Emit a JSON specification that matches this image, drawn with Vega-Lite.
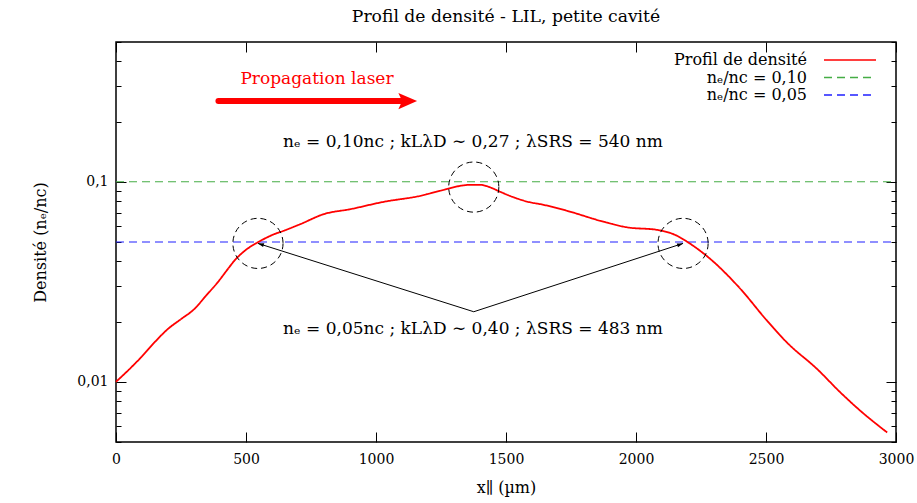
{
  "$schema": "https://vega.github.io/schema/vega-lite/v6.json",
  "width": 780,
  "height": 400,
  "autosize": {"type": "none"},
  "padding": {"left": 116, "top": 42, "right": 21, "bottom": 61},
  "background": "white",
  "title": {"text": "Profil de densité - LIL, petite cavité", "font": "DejaVu Serif", "fontSize": 17.2, "fontWeight": "normal", "color": "black", "offset": 16, "anchor": "middle"},
  "config": {
    "view": {"stroke": "black", "strokeWidth": 1.5},
    "axis": {"domain": false, "grid": false, "tickColor": "black", "tickWidth": 1, "labelFont": "DejaVu Serif", "labelFontSize": 14, "labelColor": "black", "titleFont": "DejaVu Serif", "titleFontSize": 16, "titleFontWeight": "normal", "titleColor": "black"},
    "legend": {"orient": "none", "legendX": 726, "legendY": 10, "title": null, "labelAlign": "right", "labelOffset": -51, "labelFont": "DejaVu Serif", "labelFontSize": 16, "labelColor": "black", "labelLimit": 400, "symbolType": "M-4,0H4", "symbolSize": 169, "symbolStrokeWidth": 1.5, "rowPadding": 1.5, "padding": 0}
  },
  "datasets": {
    "curve": [
      {"x": 0, "y": 0.0100, "series": "Profil de densité"},
      {"x": 45, "y": 0.01135, "series": "Profil de densité"},
      {"x": 96, "y": 0.01324, "series": "Profil de densité"},
      {"x": 148, "y": 0.01574, "series": "Profil de densité"},
      {"x": 199, "y": 0.01834, "series": "Profil de densité"},
      {"x": 250, "y": 0.02058, "series": "Profil de densité"},
      {"x": 301, "y": 0.02309, "series": "Profil de densité"},
      {"x": 346, "y": 0.02692, "series": "Profil de densité"},
      {"x": 391, "y": 0.03141, "series": "Profil de densité"},
      {"x": 430, "y": 0.0366, "series": "Profil de densité"},
      {"x": 455, "y": 0.04027, "series": "Profil de densité"},
      {"x": 500, "y": 0.04571, "series": "Profil de densité"},
      {"x": 545, "y": 0.04977, "series": "Profil de densité"},
      {"x": 609, "y": 0.05474, "series": "Profil de densité"},
      {"x": 645, "y": 0.0569, "series": "Profil de densité"},
      {"x": 709, "y": 0.0614, "series": "Profil de densité"},
      {"x": 799, "y": 0.0689, "series": "Profil de densité"},
      {"x": 902, "y": 0.0730, "series": "Profil de densité"},
      {"x": 1030, "y": 0.0794, "series": "Profil de densité"},
      {"x": 1171, "y": 0.0851, "series": "Profil de densité"},
      {"x": 1248, "y": 0.0902, "series": "Profil de densité"},
      {"x": 1312, "y": 0.0948, "series": "Profil de densité"},
      {"x": 1363, "y": 0.0966, "series": "Profil de densité"},
      {"x": 1402, "y": 0.0966, "series": "Profil de densité"},
      {"x": 1440, "y": 0.0937, "series": "Profil de densité"},
      {"x": 1478, "y": 0.0891, "series": "Profil de densité"},
      {"x": 1530, "y": 0.0836, "series": "Profil de densité"},
      {"x": 1594, "y": 0.0789, "series": "Profil de densité"},
      {"x": 1632, "y": 0.0773, "series": "Profil de densité"},
      {"x": 1735, "y": 0.0716, "series": "Profil de densité"},
      {"x": 1863, "y": 0.0638, "series": "Profil de densité"},
      {"x": 1966, "y": 0.0592, "series": "Profil de densité"},
      {"x": 2081, "y": 0.0575, "series": "Profil de densité"},
      {"x": 2158, "y": 0.0537, "series": "Profil de densité"},
      {"x": 2197, "y": 0.0501, "series": "Profil de densité"},
      {"x": 2286, "y": 0.0411, "series": "Profil de densité"},
      {"x": 2402, "y": 0.0291, "series": "Profil de densité"},
      {"x": 2504, "y": 0.0202, "series": "Profil de densité"},
      {"x": 2581, "y": 0.0157, "series": "Profil de densité"},
      {"x": 2697, "y": 0.01157, "series": "Profil de densité"},
      {"x": 2786, "y": 0.00885, "series": "Profil de densité"},
      {"x": 2863, "y": 0.00716, "series": "Profil de densité"},
      {"x": 2966, "y": 0.00558, "series": "Profil de densité"}
    ],
    "ref": [
      {"x": 0, "y": 0.1, "series": "nₑ/nc = 0,10"},
      {"x": 3000, "y": 0.1, "series": "nₑ/nc = 0,10"},
      {"x": 0, "y": 0.05, "series": "nₑ/nc = 0,05"},
      {"x": 3000, "y": 0.05, "series": "nₑ/nc = 0,05"}
    ],
    "circles": [
      {"x": 546, "y": 0.0492},
      {"x": 1376, "y": 0.0941},
      {"x": 2181, "y": 0.0492}
    ],
    "arrows": [
      {"x": 1376, "y": 0.0224, "x2": 546, "y2": 0.0492, "side": "left"},
      {"x": 1376, "y": 0.0224, "x2": 2181, "y2": 0.0492, "side": "right"}
    ],
    "laser": [{"x": 394, "x2": 1113, "y": 0.2532, "tip": 1158}],
    "redtext": [{"x": 773, "y": 0.326, "text": "Propagation laser"}],
    "notes": [
      {"x": 1373, "y": 0.1585, "text": "nₑ = 0,10nc ; kLλD ∼ 0,27 ; λSRS = 540 nm"},
      {"x": 1373, "y": 0.01834, "text": "nₑ = 0,05nc ; kLλD ∼ 0,40 ; λSRS = 483 nm"}
    ]
  },
  "layer": [
    {
      "data": {"name": "ref"},
      "mark": {"type": "line", "strokeWidth": 1.1},
      "encoding": {
        "x": {"field": "x", "type": "quantitative", "scale": {"domain": [0, 3000], "nice": false, "zero": false},
              "axis": {"orient": "top", "labels": false, "title": null, "values": [0, 500, 1000, 1500, 2000, 2500, 3000], "tickSize": -10}},
        "y": {"field": "y", "type": "quantitative", "scale": {"type": "log", "domain": [0.005, 0.5], "nice": false},
              "axis": {"orient": "right", "labels": false, "title": null,
                       "values": [0.005, 0.006, 0.007, 0.008, 0.009, 0.01, 0.02, 0.03, 0.04, 0.05, 0.06, 0.07, 0.08, 0.09, 0.1, 0.2, 0.3, 0.4, 0.5],
                       "tickSize": {"condition": {"test": "datum.value == 0.1 || datum.value == 0.01", "value": -10}, "value": -5}}},
        "detail": {"field": "series"},
        "color": {"field": "series", "type": "nominal", "scale": {"domain": ["Profil de densité", "nₑ/nc = 0,10", "nₑ/nc = 0,05"], "range": ["#ff0000", "#45ad45", "#2020ff"]}},
        "strokeDash": {"field": "series", "type": "nominal", "scale": {"domain": ["Profil de densité", "nₑ/nc = 0,10", "nₑ/nc = 0,05"], "range": [[1, 0], [8, 5], [8, 5]]}}
      }
    },
    {
      "data": {"name": "curve"},
      "mark": {"type": "line", "strokeWidth": 1.8, "interpolate": "monotone"},
      "encoding": {
        "x": {"field": "x", "type": "quantitative", "scale": {"domain": [0, 3000], "nice": false, "zero": false},
              "axis": {"orient": "bottom", "title": "x∥ (µm)", "values": [0, 500, 1000, 1500, 2000, 2500, 3000], "format": "d", "labelFlush": false, "tickSize": -10, "labelPadding": 20, "titlePadding": 13}},
        "y": {"field": "y", "type": "quantitative", "scale": {"type": "log", "domain": [0.005, 0.5], "nice": false},
              "axis": {"orient": "left", "title": "Densité (nₑ/nc)", "titlePadding": 28,
                       "values": [0.005, 0.006, 0.007, 0.008, 0.009, 0.01, 0.02, 0.03, 0.04, 0.05, 0.06, 0.07, 0.08, 0.09, 0.1, 0.2, 0.3, 0.4, 0.5],
                       "labelExpr": "datum.value == 0.1 ? '0,1' : (datum.value == 0.01 ? '0,01' : '')",
                       "labelPadding": 18,
                       "tickSize": {"condition": {"test": "datum.value == 0.1 || datum.value == 0.01", "value": -10}, "value": -5}}},
        "color": {"field": "series", "type": "nominal", "scale": {"domain": ["Profil de densité", "nₑ/nc = 0,10", "nₑ/nc = 0,05"], "range": ["#ff0000", "#45ad45", "#2020ff"]}},
        "strokeDash": {"field": "series", "type": "nominal", "scale": {"domain": ["Profil de densité", "nₑ/nc = 0,10", "nₑ/nc = 0,05"], "range": [[1, 0], [8, 5], [8, 5]]}}
      }
    },
    {
      "data": {"name": "circles"},
      "mark": {"type": "point", "shape": "circle", "size": 2516, "filled": false, "stroke": "black", "strokeWidth": 1, "strokeDash": [6, 4], "opacity": 1},
      "encoding": {
        "x": {"field": "x", "type": "quantitative", "scale": {"domain": [0, 3000], "nice": false, "zero": false}, "axis": null},
        "y": {"field": "y", "type": "quantitative", "scale": {"type": "log", "domain": [0.005, 0.5], "nice": false}, "axis": null}
      }
    },
    {
      "data": {"name": "arrows"},
      "mark": {"type": "rule", "color": "black", "strokeWidth": 1},
      "encoding": {
        "x": {"field": "x", "type": "quantitative", "scale": {"domain": [0, 3000], "nice": false, "zero": false}, "axis": null},
        "y": {"field": "y", "type": "quantitative", "scale": {"type": "log", "domain": [0.005, 0.5], "nice": false}, "axis": null},
        "x2": {"field": "x2"},
        "y2": {"field": "y2"}
      }
    },
    {
      "data": {"name": "arrows"},
      "transform": [{"filter": "datum.side == 'left'"}],
      "mark": {"type": "point", "shape": "M0,0L-1,-0.33L-1,0.33Z", "size": 144, "filled": true, "color": "black", "opacity": 1, "angle": 197.65},
      "encoding": {
        "x": {"field": "x2", "type": "quantitative", "scale": {"domain": [0, 3000], "nice": false, "zero": false}, "axis": null},
        "y": {"field": "y2", "type": "quantitative", "scale": {"type": "log", "domain": [0.005, 0.5], "nice": false}, "axis": null}
      }
    },
    {
      "data": {"name": "arrows"},
      "transform": [{"filter": "datum.side == 'right'"}],
      "mark": {"type": "point", "shape": "M0,0L-1,-0.33L-1,0.33Z", "size": 144, "filled": true, "color": "black", "opacity": 1, "angle": 341.9},
      "encoding": {
        "x": {"field": "x2", "type": "quantitative", "scale": {"domain": [0, 3000], "nice": false, "zero": false}, "axis": null},
        "y": {"field": "y2", "type": "quantitative", "scale": {"type": "log", "domain": [0.005, 0.5], "nice": false}, "axis": null}
      }
    },
    {
      "data": {"name": "laser"},
      "mark": {"type": "rule", "color": "#ff0000", "strokeWidth": 6, "strokeCap": "round"},
      "encoding": {
        "x": {"field": "x", "type": "quantitative", "scale": {"domain": [0, 3000], "nice": false, "zero": false}, "axis": null},
        "x2": {"field": "x2"},
        "y": {"field": "y", "type": "quantitative", "scale": {"type": "log", "domain": [0.005, 0.5], "nice": false}, "axis": null}
      }
    },
    {
      "data": {"name": "laser"},
      "mark": {"type": "point", "shape": "M0,0L-1,-0.43L-0.8,0L-1,0.43Z", "size": 1399, "filled": true, "color": "#ff0000", "opacity": 1},
      "encoding": {
        "x": {"field": "tip", "type": "quantitative", "scale": {"domain": [0, 3000], "nice": false, "zero": false}, "axis": null},
        "y": {"field": "y", "type": "quantitative", "scale": {"type": "log", "domain": [0.005, 0.5], "nice": false}, "axis": null}
      }
    },
    {
      "data": {"name": "redtext"},
      "mark": {"type": "text", "font": "DejaVu Serif", "fontSize": 17, "color": "#ff0000", "align": "center", "baseline": "middle"},
      "encoding": {
        "x": {"field": "x", "type": "quantitative", "scale": {"domain": [0, 3000], "nice": false, "zero": false}, "axis": null},
        "y": {"field": "y", "type": "quantitative", "scale": {"type": "log", "domain": [0.005, 0.5], "nice": false}, "axis": null},
        "text": {"field": "text"}
      }
    },
    {
      "data": {"name": "notes"},
      "mark": {"type": "text", "font": "DejaVu Serif", "fontSize": 17, "color": "black", "align": "center", "baseline": "middle"},
      "encoding": {
        "x": {"field": "x", "type": "quantitative", "scale": {"domain": [0, 3000], "nice": false, "zero": false}, "axis": null},
        "y": {"field": "y", "type": "quantitative", "scale": {"type": "log", "domain": [0.005, 0.5], "nice": false}, "axis": null},
        "text": {"field": "text"}
      }
    }
  ],
  "resolve": {"axis": {"x": "independent", "y": "independent"}}
}
